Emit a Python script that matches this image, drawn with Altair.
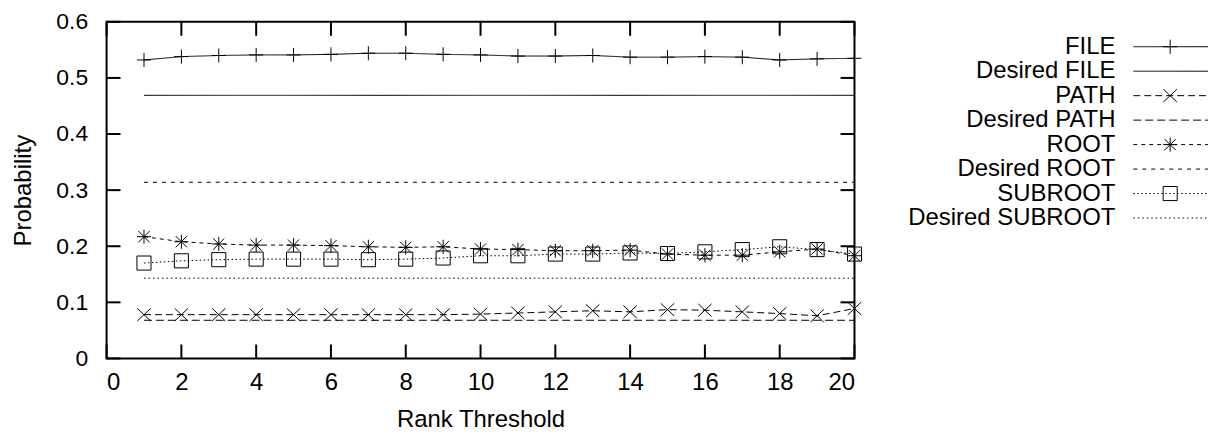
import altair as alt
import pandas as pd

# ---- data ----
ranks = list(range(1, 21))
file_vals = [0.532, 0.538, 0.540, 0.541, 0.541, 0.542, 0.544, 0.544, 0.542, 0.541,
             0.539, 0.539, 0.540, 0.537, 0.537, 0.538, 0.537, 0.532, 0.534, 0.535]
path_vals = [0.078, 0.078, 0.078, 0.078, 0.078, 0.078, 0.078, 0.078, 0.078, 0.079,
             0.081, 0.083, 0.085, 0.083, 0.087, 0.086, 0.083, 0.080, 0.076, 0.089]
root_vals = [0.217, 0.208, 0.204, 0.202, 0.202, 0.201, 0.199, 0.198, 0.199, 0.195,
             0.194, 0.192, 0.192, 0.193, 0.186, 0.184, 0.184, 0.190, 0.195, 0.183]
subroot_vals = [0.170, 0.174, 0.176, 0.177, 0.177, 0.177, 0.176, 0.177, 0.179, 0.183,
                0.183, 0.186, 0.186, 0.188, 0.187, 0.190, 0.194, 0.199, 0.194, 0.186]
desired = {"Desired FILE": 0.469, "Desired PATH": 0.068,
           "Desired ROOT": 0.314, "Desired SUBROOT": 0.143}
series_order = ["FILE", "Desired FILE", "PATH", "Desired PATH",
                "ROOT", "Desired ROOT", "SUBROOT", "Desired SUBROOT"]
x_ticks = [0, 2, 4, 6, 8, 10, 12, 14, 16, 18, 20]
y_ticks = [0, 0.1, 0.2, 0.3, 0.4, 0.5, 0.6]

# ---- build tables ----
rows = []
for name, vals in [("FILE", file_vals), ("PATH", path_vals),
                   ("ROOT", root_vals), ("SUBROOT", subroot_vals)]:
    for r, v in zip(ranks, vals):
        rows.append({"rank": r, "series": name, "value": v})
for name, v in desired.items():
    for r in (ranks[0], ranks[-1]):
        rows.append({"rank": r, "series": name, "value": v})
df = pd.DataFrame(rows)
measured = df[~df["series"].str.startswith("Desired")]

legend_df = pd.DataFrame({"series": series_order})
legend_marks = legend_df[~legend_df["series"].str.startswith("Desired")]

xt = pd.DataFrame({"xt": x_ticks})
yt = pd.DataFrame({"yt": y_ticks})

W, H = 751, 338
FONT = "Liberation Sans"
FS = 24

dash_scale = alt.Scale(
    domain=series_order,
    range=[[1, 0], [1, 0], [7, 4], [8, 4], [4, 4], [4, 5], [1.5, 2.5], [1.5, 3]],
)
shape_scale = alt.Scale(
    domain=["FILE", "PATH", "ROOT", "SUBROOT"],
    range=[
        "M-1,0H1M0,-1V1",
        "M-0.95,-0.9L0.95,0.9M-0.95,0.9L0.95,-0.9",
        "M-1,0H1M0,-1V1M-0.8,-0.8L0.8,0.8M-0.8,0.8L0.8,-0.8",
        "M-1,-1H1V1H-1Z",
    ],
)

x_enc = alt.X("rank:Q", scale=alt.Scale(domain=[0, 20], nice=False),
              axis=alt.Axis(values=x_ticks, format="d", title="Rank Threshold",
                            labelPadding=12, titlePadding=13))
y_enc = alt.Y("value:Q", scale=alt.Scale(domain=[0, 0.6], nice=False),
              axis=alt.Axis(values=y_ticks, format="~g", title="Probability",
                            labelFontSize=23, labelPadding=19, titlePadding=20))

lines = alt.Chart(df).mark_line(color="black", strokeWidth=1).encode(
    x=x_enc, y=y_enc,
    strokeDash=alt.StrokeDash("series:N", scale=dash_scale, legend=None),
    detail="series:N",
)
points = alt.Chart(measured).mark_point(
    filled=False, color="black", strokeWidth=1, opacity=1, size=200
).encode(
    x="rank:Q", y="value:Q",
    shape=alt.Shape("series:N", scale=shape_scale, legend=None),
)

tick_style = dict(color="black", strokeWidth=2)
tb = alt.Chart(xt).mark_rule(**tick_style).encode(
    x="xt:Q", y=alt.value(H), y2=alt.value(H - 14))
tt = alt.Chart(xt).mark_rule(**tick_style).encode(
    x="xt:Q", y=alt.value(0), y2=alt.value(14))
tl = alt.Chart(yt).mark_rule(**tick_style).encode(
    y=alt.Y("yt:Q"), x=alt.value(0), x2=alt.value(14))
tr = alt.Chart(yt).mark_rule(**tick_style).encode(
    y=alt.Y("yt:Q"), x=alt.value(W), x2=alt.value(W - 14))

main = alt.layer(lines, points, tb, tt, tl, tr)

leg_y = alt.Y("series:N", sort=series_order,
              scale=alt.Scale(type="point", range=[25, 197], padding=0), axis=None)
leg_text = alt.Chart(legend_df).mark_text(
    align="right", baseline="middle", font=FONT, fontSize=FS, color="black"
).encode(x=alt.value(1013), y=leg_y, text="series:N")
leg_line = alt.Chart(legend_df).mark_rule(color="black", strokeWidth=1).encode(
    x=alt.value(1031), x2=alt.value(1106), y=leg_y,
    strokeDash=alt.StrokeDash("series:N", scale=dash_scale, legend=None),
)
leg_pts = alt.Chart(legend_marks).mark_point(
    filled=False, color="black", strokeWidth=1, opacity=1, size=200
).encode(
    x=alt.value(1068), y=leg_y,
    shape=alt.Shape("series:N", scale=shape_scale, legend=None),
)
legend = alt.layer(leg_line, leg_pts, leg_text)

chart = alt.layer(main, legend).resolve_scale(y="independent").properties(
    width=W, height=H,
    autosize=alt.AutoSizeParams(type="none"),
    padding={"left": 99, "top": 13, "right": 358, "bottom": 74},
    background="white",
).configure_view(stroke="black", strokeWidth=2).configure_axis(
    labelFont=FONT, titleFont=FONT, labelFontSize=FS, titleFontSize=FS,
    titleFontWeight="normal", labelColor="black", titleColor="black",
    ticks=False, domain=False, grid=False,
)

chart.save("out.html", embed_options={"renderer": "svg", "actions": False})
